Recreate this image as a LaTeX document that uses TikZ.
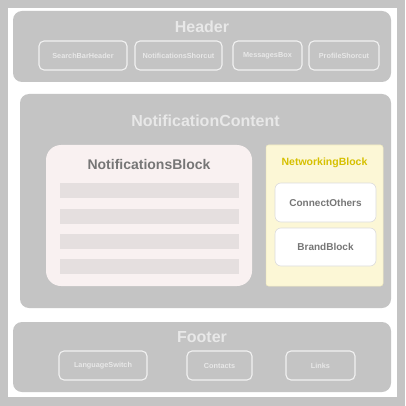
\documentclass[tikz,border=0pt]{standalone}
\usepackage{fontspec}
\setmainfont{Liberation Sans}
\definecolor{gbg}{HTML}{C4C4C4}
\definecolor{ltxt}{HTML}{E8E8E8}
\definecolor{lbord}{HTML}{F2F2F2}
\definecolor{pinkfill}{HTML}{F9F1F1}
\definecolor{barfill}{HTML}{E5DFDF}
\definecolor{darktxt}{HTML}{767676}
\definecolor{yelfill}{HTML}{FCF7D6}
\definecolor{yelbord}{HTML}{F0EAC0}
\definecolor{yeltxt}{HTML}{D6C000}
\definecolor{wbord}{HTML}{DCDCDC}
\begin{document}
\begin{tikzpicture}[x=1pt,y=-1pt,
  section/.style={fill=gbg,rounded corners=9pt,inner sep=0pt},
  bigtitle/.style={text=ltxt,font=\fontsize{16}{16}\selectfont\bfseries,inner sep=0pt},
  chip/.style={draw=lbord,line width=1.1pt,rounded corners=5pt,inner sep=0pt,minimum height=29pt,text=ltxt,font=\fontsize{7.3}{8}\selectfont\bfseries},
  bar/.style={fill=barfill,inner sep=0pt,minimum width=179pt,minimum height=15pt},
  wbox/.style={fill=white,draw=wbord,line width=0.6pt,rounded corners=6pt,inner sep=0pt,minimum width=101pt,text=darktxt,font=\fontsize{10}{11}\selectfont\bfseries}]
\fill[gbg] (0,0) rectangle (405,406);
\fill[white] (8,8) rectangle (397,397);
% Header
\node[section,minimum width=378pt,minimum height=71pt] (header) at (202,46.5) {};
\node[bigtitle] (headertitle) at (202,27) {Header};
\node[chip,minimum width=88pt] (search) at (83,55.5) {SearchBarHeader};
\node[chip,minimum width=87pt] (notifs) at (178.5,55.5) {NotificationsShorcut};
\node[chip,minimum width=69pt] (msgs) at (267.5,55.5) {MessagesBox};
\node[chip,minimum width=70pt] (profile) at (344,55.5) {ProfileShorcut};
% Content
\node[section,minimum width=371pt,minimum height=214pt] (content) at (205.5,201) {};
\node[bigtitle] (contenttitle) at (205.5,121) {NotificationContent};
\node[fill=pinkfill,rounded corners=15pt,inner sep=0pt,minimum width=206pt,minimum height=141pt] (nblock) at (149,215.5) {};
\node[text=darktxt,font=\fontsize{14}{14}\selectfont\bfseries,inner sep=0pt] (nblocktitle) at (149,164) {NotificationsBlock};
\node[bar] (bar1) at (149.5,190.5) {};
\node[bar] (bar2) at (149.5,216) {};
\node[bar] (bar3) at (149.5,241.5) {};
\node[bar] (bar4) at (149.5,266.5) {};
\node[fill=yelfill,draw=yelbord,line width=0.5pt,rounded corners=2.5pt,inner sep=0pt,minimum width=117pt,minimum height=141pt] (net) at (324.5,215.5) {};
\node[text=yeltxt,font=\fontsize{10.5}{11}\selectfont\bfseries,inner sep=0pt] (nettitle) at (324.5,163) {NetworkingBlock};
\node[wbox,minimum height=39pt] (connect) at (325.5,202.5) {ConnectOthers};
\node[wbox,minimum height=38pt] (brand) at (325.5,247) {BrandBlock};
% Footer
\node[section,minimum width=378pt,minimum height=70pt] (footer) at (202,357) {};
\node[bigtitle] (footertitle) at (202,337) {Footer};
\node[chip,minimum width=88pt] (lang) at (103,365.5) {LanguageSwitch};
\node[chip,minimum width=65pt] (contacts) at (219.5,365.5) {Contacts};
\node[chip,minimum width=69pt] (links) at (320.5,365.5) {Links};
\end{tikzpicture}
\end{document}
